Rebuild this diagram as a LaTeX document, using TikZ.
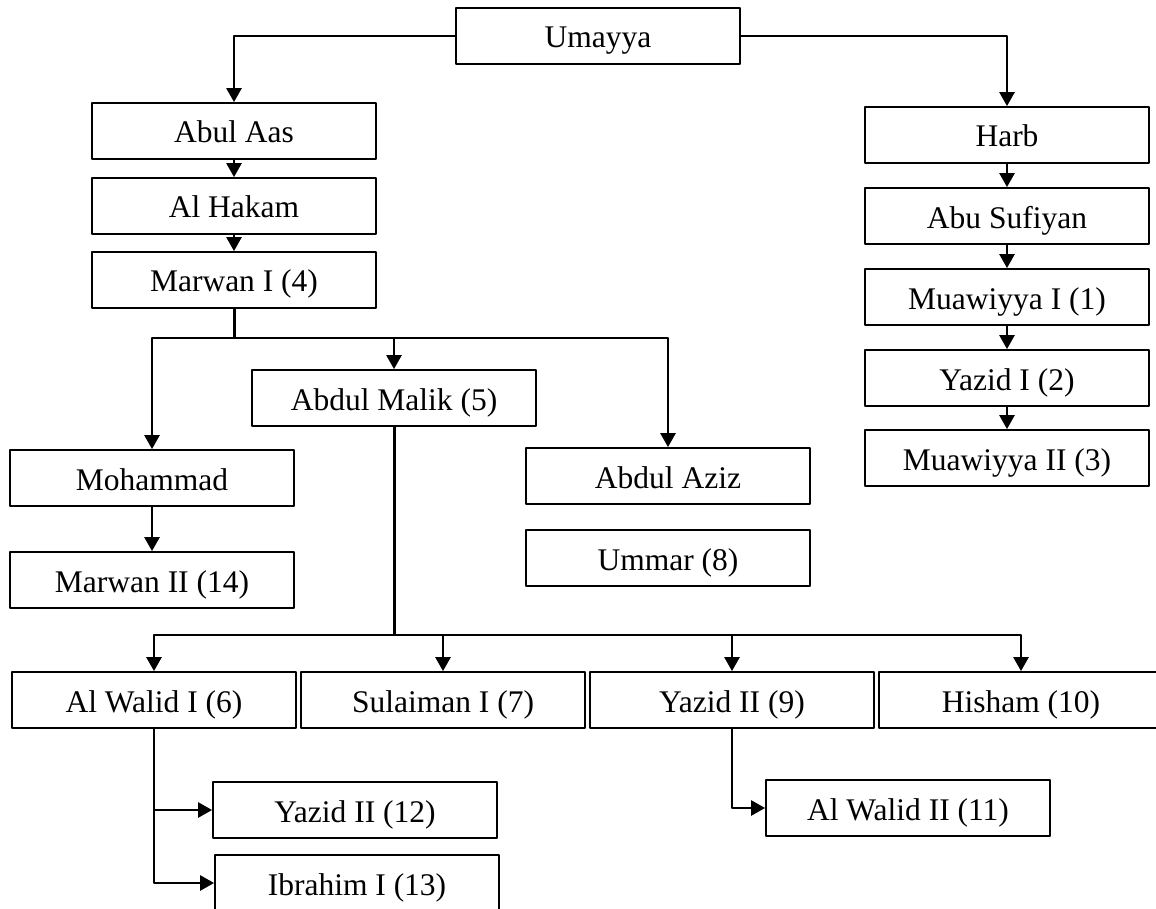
\documentclass[tikz,border=0pt]{standalone}
\usepackage{fontspec}
\setmainfont{Liberation Serif}
\usetikzlibrary{arrows.meta}

\begin{document}
\begin{tikzpicture}[x=0.5pt, y=-0.5pt, line join = round,
		person/.style={draw, line width=0.9pt, minimum width=142pt, minimum height=28pt, inner sep=0pt, text height=14pt, text depth=2pt, font=\fontsize{15.75}{18}\selectfont},
		link/.style={line width=1.3pt, -{Triangle[length=7pt,width=7.5pt]}}]
		\useasboundingbox (0,0) rectangle (1156,909);
		
		% the two houses
		\node[person] (umayya) at (598,36) {Umayya};
		\node[person] (abulaas) at (234,131) {Abul Aas};
		\node[person] (alhakam) at (234,206) {Al Hakam};
		\node[person] (marwan1) at (234,280) {Marwan I (4)};
		\node[person] (harb) at (1007,135) {Harb};
		\node[person] (abusufiyan) at (1007,216) {Abu Sufiyan};
		\node[person] (muawiyya1) at (1007,297) {Muawiyya I (1)};
		\node[person] (yazid1) at (1007,378) {Yazid I (2)};
		\node[person] (muawiyya2) at (1007,458) {Muawiyya II (3)};
		
		% sons of Marwan I
		\node[person] (abdulmalik) at (394,398) {Abdul Malik (5)};
		\node[person] (mohammad) at (152,478) {Mohammad};
		\node[person] (marwan2) at (152,580) {Marwan II (14)};
		\node[person] (abdulaziz) at (668,476) {Abdul Aziz};
		\node[person] (ummar) at (668,558) {Ummar (8)};
		
		% sons of Abdul Malik
		\node[person] (walid1) at (154,700) {Al Walid I (6)};
		\node[person] (sulaiman) at (443,700) {Sulaiman I (7)};
		\node[person] (yazid9) at (732,700) {Yazid II (9)};
		\node[person] (hisham) at (1021,700) {Hisham (10)};
		\node[person] (yazid12) at (355,810) {Yazid II (12)};
		\node[person] (ibrahim) at (357,883) {Ibrahim I (13)};
		\node[person] (walid2) at (908,808) {Al Walid II (11)};
		
		\draw[link] (umayya.west) -| (abulaas.north);
		\draw[link] (umayya.east) -| (harb.north);
		\foreach \a/\b in {abulaas/alhakam, alhakam/marwan1, harb/abusufiyan, abusufiyan/muawiyya1, muawiyya1/yazid1, yazid1/muawiyya2, mohammad/marwan2}
		\draw[link] (\a.south) -- (\b.north);
		
		\coordinate (mjoin) at (234,338);
		\draw[line width=1.5pt] (marwan1.south) -- (mjoin);
		\foreach \c in {mohammad,abdulmalik,abdulaziz}
		\draw[link] (mjoin) -| (\c.north);
		
		\coordinate (ajoin) at (394,635);
		\draw[line width=1.5pt] (abdulmalik.south) -- (ajoin);
		\foreach \c in {walid1,sulaiman,yazid9,hisham}
		\draw[link] (ajoin) -| (\c.north);
		
		\draw[link] (walid1.south) |- (yazid12.west);
		\draw[link] (walid1.south) |- (ibrahim.west);
		\draw[link] (yazid9.south) |- (walid2.west);
		
\end{tikzpicture}
\end{document}
